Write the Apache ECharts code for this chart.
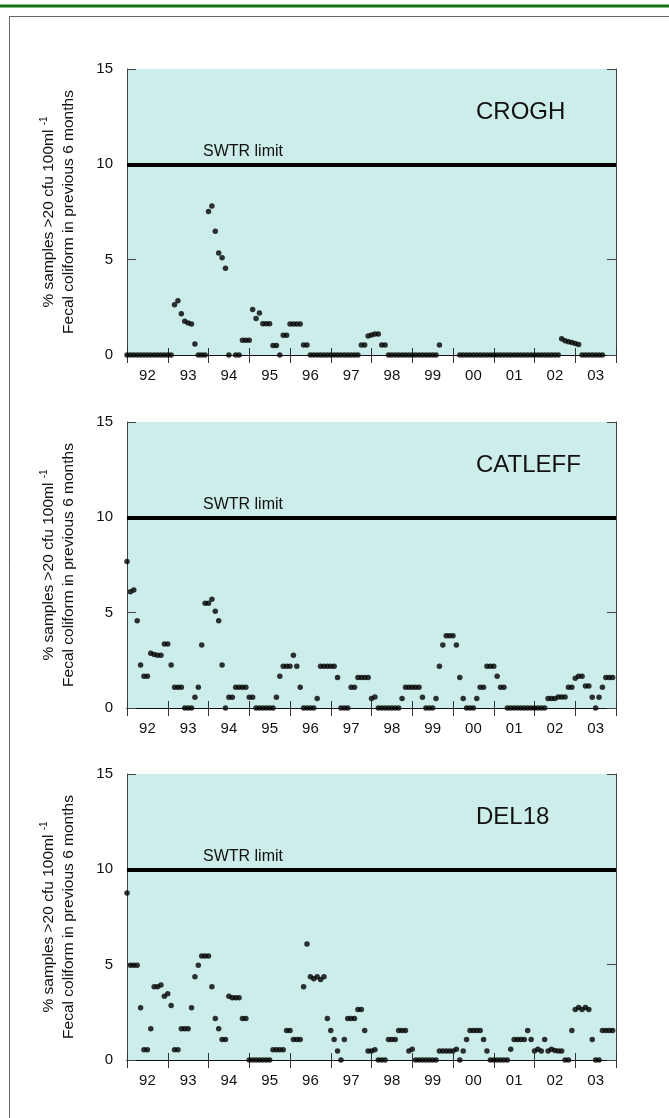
<!DOCTYPE html>
<html>
<head>
<meta charset="utf-8">
<script src="https://cdn.jsdelivr.net/npm/echarts@6/dist/echarts.min.js"></script>
<style>
html,body{margin:0;padding:0;background:#fff;}
#chart{width:669px;height:1118px;}
</style>
</head>
<body>
<div id="chart"></div>
<script>
// ---- data ----
const yearLabels = ['92','93','94','95','96','97','98','99','00','01','02','03'];
const startYear = 1992;
const endYear = 2004;
const stations = ['CROGH', 'CATLEFF', 'DEL18'];
const limitValue = 10;
const limitLabel = 'SWTR limit';
const yMin = 0, yMax = 15, yStep = 5;

// monthly values, Jan 1992 .. Dec 2003 (one row per year)
const crogh = [
  0,0,0,0,0,0,0,0,0,0,0,0,
  0,0,2.64,2.85,2.17,1.77,1.68,1.63,0.58,0,0,0,
  7.52,7.81,6.49,5.35,5.1,4.55,0,null,0,0,0.77,0.77,
  0.77,2.38,1.92,2.2,1.64,1.64,1.64,0.5,0.5,0,1.03,1.03,
  1.63,1.63,1.63,1.63,0.52,0.52,0,0,0,0,0,0,
  0,0,0,0,0,0,0,0,0,0.52,0.52,1.0,
  1.05,1.1,1.1,0.52,0.52,0,0,0,0,0,0,0,
  0,0,0,0,0,0,0,0,0.52,null,null,null,
  null,null,0,0,0,0,0,0,0,0,0,0,
  0,0,0,0,0,0,0,0,0,0,0,0,
  0,0,0,0,0,0,0,0,0.85,0.75,0.7,0.65,
  0.6,0.55,0,0,0,0,0,0,0,null,null,null
];
const catleff = [
  7.68,6.1,6.19,4.57,2.26,1.66,1.66,2.87,2.8,2.77,2.77,3.36,
  3.36,2.26,1.09,1.09,1.09,0,0,0,0.56,1.09,3.3,5.49,
  5.49,5.7,5.08,4.57,2.26,0,0.56,0.56,1.09,1.09,1.09,1.09,
  0.56,0.56,0,0,0,0,0,0,0.56,1.66,2.19,2.19,
  2.19,2.77,2.19,1.09,0,0,0,0,0.5,2.19,2.19,2.19,
  2.19,2.19,1.6,0,0,0,1.09,1.09,1.6,1.6,1.6,1.6,
  0.5,0.58,0,0,0,0,0,0,0,0.5,1.09,1.09,
  1.09,1.09,1.09,0.56,0,0,0,0.5,2.19,3.3,3.79,3.79,
  3.79,3.3,1.6,0.5,0,0,0,0.5,1.09,1.09,2.19,2.19,
  2.19,1.66,1.09,1.09,0,0,0,0,0,0,0,0,
  0,0,0,0,0.5,0.5,0.5,0.58,0.58,0.58,1.09,1.09,
  1.56,1.66,1.66,1.16,1.16,0.56,0,0.56,1.09,1.6,1.6,1.6
];
const del18 = [
  8.76,4.97,4.97,4.97,2.74,0.54,0.54,1.64,3.84,3.84,3.93,3.35,
  3.47,2.86,0.54,0.54,1.64,1.64,1.64,2.74,4.36,4.97,5.46,5.46,
  5.46,3.84,2.18,1.64,1.08,1.08,3.35,3.26,3.26,3.26,2.18,2.18,
  0,0,0,0,0,0,0,0.54,0.54,0.54,0.54,1.55,
  1.55,1.08,1.08,1.08,3.84,6.09,4.36,4.26,4.36,4.22,4.36,2.18,
  1.55,1.08,0.47,0,1.08,2.18,2.18,2.18,2.65,2.65,1.55,0.47,
  0.47,0.54,0,0,0,1.08,1.08,1.08,1.55,1.55,1.55,0.47,
  0.56,0,0,0,0,0,0,0,0.47,0.47,0.47,0.47,
  0.47,0.56,0,0.47,1.08,1.55,1.55,1.55,1.55,1.08,0.47,0,
  0,0,0,0,0,0.56,1.08,1.08,1.08,1.08,1.55,1.08,
  0.47,0.56,0.47,1.08,0.47,0.56,0.5,0.47,0.47,0,0,1.55,
  2.65,2.75,2.65,2.75,2.65,1.08,0,0,1.55,1.55,1.55,1.55
];
const seriesValues = [crogh, catleff, del18];

// ---- layout / style ----
const FONT = '"Liberation Sans", Arial, sans-serif';
const bg = '#CCEDE9';
const gridTops = [69, 422, 774];
const gridH = 286;
const gridLeft = 127, gridRight = 53;

const grids = [], xAxes = [], yAxes = [], series = [], titles = [];

gridTops.forEach((top, k) => {
  grids.push({left: gridLeft, right: gridRight, top: top, height: gridH,
    show: true, backgroundColor: bg, borderWidth: 0});
  // bottom category axis (labels centred in each year)
  xAxes.push({type: 'category', gridIndex: k, position: 'bottom', data: yearLabels,
    boundaryGap: true,
    axisLine: {show: true, lineStyle: {color: '#111', width: 1}},
    axisTick: {show: true, inside: false, length: 8, interval: 0, lineStyle: {color: '#333'}},
    axisLabel: {show: true, interval: 0, margin: 13, color: '#111', fontSize: 15, fontFamily: FONT},
    splitLine: {show: false}});
  // top category axis (ticks only)
  xAxes.push({type: 'category', gridIndex: k, position: 'top', data: yearLabels,
    boundaryGap: true,
    axisLine: {show: true, lineStyle: {color: '#111', width: 1}},
    axisTick: {show: true, inside: false, length: 7, interval: 0, lineStyle: {color: '#333'}},
    axisLabel: {show: false}, splitLine: {show: false}});
  // hidden value axis for data placement
  xAxes.push({type: 'value', gridIndex: k, min: startYear, max: endYear, show: false});
  yAxes.push({type: 'value', gridIndex: k, position: 'left', min: yMin, max: yMax, interval: yStep,
    axisLine: {show: true, lineStyle: {color: '#444'}},
    axisTick: {show: true, inside: true, length: 9, lineStyle: {color: '#444'}},
    axisLabel: {show: true, margin: 14, color: '#111', fontSize: 15, fontFamily: FONT},
    splitLine: {show: false},
    name: '{a|% samples >20 cfu 100ml }{s|-1}\n{a|Fecal coliform in previous 6 months}',
    nameLocation: 'middle', nameRotate: 90, nameGap: 48,
    nameTextStyle: {fontFamily: FONT, color: '#111',
      rich: {a: {fontSize: 15.5, lineHeight: 20, fontFamily: FONT, color: '#111'},
             s: {fontSize: 10, lineHeight: 20, verticalAlign: 'top', fontFamily: FONT, color: '#111'}}}});
  yAxes.push({type: 'value', gridIndex: k, position: 'right', min: yMin, max: yMax, interval: yStep,
    axisLine: {show: true, lineStyle: {color: '#444'}},
    axisTick: {show: true, inside: true, length: 9, lineStyle: {color: '#444'}},
    axisLabel: {show: false}, splitLine: {show: false}});

  const vals = seriesValues[k];
  const pts = [];
  vals.forEach((v, i) => { if (v !== null) pts.push([startYear + i / 12, v]); });
  series.push({type: 'scatter', name: stations[k], xAxisIndex: 3 * k + 2, yAxisIndex: 2 * k,
    data: pts, symbol: 'circle', symbolSize: 5.5, itemStyle: {color: '#000'}, z: 3,
    markLine: {silent: true, symbol: 'none', animation: false,
      lineStyle: {color: '#000', width: 4, type: 'solid'},
      label: {show: false}, data: [{yAxis: limitValue}]}});

  const plotToY = v => top + gridH * (yMax - v) / (yMax - yMin);
  titles.push({text: limitLabel, left: 203, top: plotToY(limitValue) - 21, padding: 0,
    textStyle: {fontSize: 16, fontWeight: 'normal', color: '#111', fontFamily: FONT}});
  titles.push({text: stations[k], left: 476, top: plotToY(12.7) - 12, padding: 0,
    textStyle: {fontSize: 24, fontWeight: 'normal', color: '#111', fontFamily: FONT}});
});

const chart = echarts.init(document.getElementById('chart'), null, {renderer: 'canvas'});
chart.setOption({
  backgroundColor: '#fff',
  animation: false,
  title: titles,
  grid: grids,
  xAxis: xAxes,
  yAxis: yAxes,
  series: series,
  graphic: [
    {type: 'rect', shape: {x: 0, y: 4.5, width: 669, height: 3}, style: {fill: '#117211'}, silent: true},
    {type: 'rect', shape: {x: 9.5, y: 16.5, width: 800, height: 1300},
     style: {fill: null, stroke: '#666', lineWidth: 1}, silent: true}
  ]
});
</script>
</body>
</html>
